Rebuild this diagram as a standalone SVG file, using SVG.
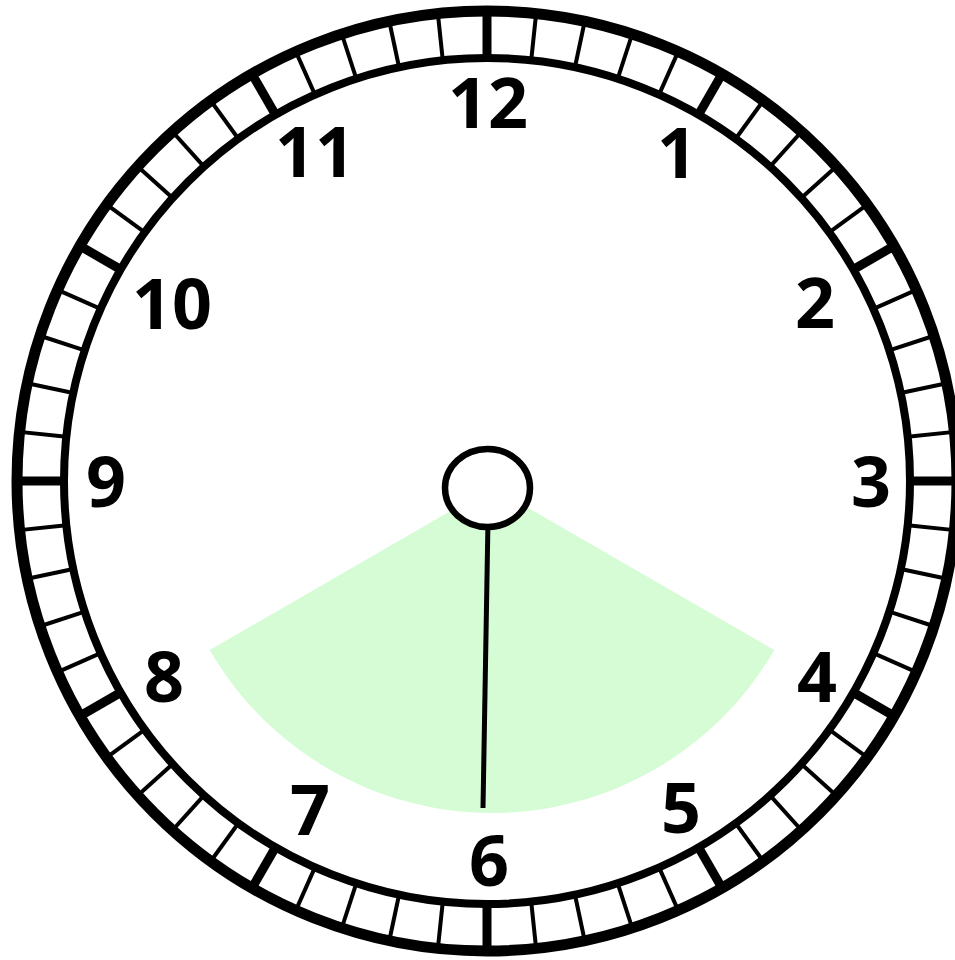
<svg xmlns="http://www.w3.org/2000/svg" xmlns:xlink="http://www.w3.org/1999/xlink" width="955" height="960" viewBox="0 0 955 960">
<style>
.num{font-family:"Noto Sans","Open Sans","DejaVu Sans",sans-serif;font-weight:700;font-size:70px;fill:#000;text-anchor:middle}
.mt{stroke:#000;stroke-width:4}
.ht{stroke:#000;stroke-width:9}
</style>
<defs>
<line id="m" class="mt" x1="487" y1="11" x2="487" y2="58"/>
<line id="h" class="ht" x1="487" y1="11" x2="487" y2="58"/>
</defs>
<rect width="955" height="960" fill="#fff"/>
<g id="sector">
<path d="M492,487 L209.7,650 A326,326 0 0 0 774.3,650 Z" fill="#d6fcd6"/>
</g>
<g id="ticks">
<use xlink:href="#h" transform="rotate(0 487 481)"/>
<use xlink:href="#m" transform="rotate(6 487 481)"/>
<use xlink:href="#m" transform="rotate(12 487 481)"/>
<use xlink:href="#m" transform="rotate(18 487 481)"/>
<use xlink:href="#m" transform="rotate(24 487 481)"/>
<use xlink:href="#h" transform="rotate(30 487 481)"/>
<use xlink:href="#m" transform="rotate(36 487 481)"/>
<use xlink:href="#m" transform="rotate(42 487 481)"/>
<use xlink:href="#m" transform="rotate(48 487 481)"/>
<use xlink:href="#m" transform="rotate(54 487 481)"/>
<use xlink:href="#h" transform="rotate(60 487 481)"/>
<use xlink:href="#m" transform="rotate(66 487 481)"/>
<use xlink:href="#m" transform="rotate(72 487 481)"/>
<use xlink:href="#m" transform="rotate(78 487 481)"/>
<use xlink:href="#m" transform="rotate(84 487 481)"/>
<use xlink:href="#h" transform="rotate(90 487 481)"/>
<use xlink:href="#m" transform="rotate(96 487 481)"/>
<use xlink:href="#m" transform="rotate(102 487 481)"/>
<use xlink:href="#m" transform="rotate(108 487 481)"/>
<use xlink:href="#m" transform="rotate(114 487 481)"/>
<use xlink:href="#h" transform="rotate(120 487 481)"/>
<use xlink:href="#m" transform="rotate(126 487 481)"/>
<use xlink:href="#m" transform="rotate(132 487 481)"/>
<use xlink:href="#m" transform="rotate(138 487 481)"/>
<use xlink:href="#m" transform="rotate(144 487 481)"/>
<use xlink:href="#h" transform="rotate(150 487 481)"/>
<use xlink:href="#m" transform="rotate(156 487 481)"/>
<use xlink:href="#m" transform="rotate(162 487 481)"/>
<use xlink:href="#m" transform="rotate(168 487 481)"/>
<use xlink:href="#m" transform="rotate(174 487 481)"/>
<use xlink:href="#h" transform="rotate(180 487 481)"/>
<use xlink:href="#m" transform="rotate(186 487 481)"/>
<use xlink:href="#m" transform="rotate(192 487 481)"/>
<use xlink:href="#m" transform="rotate(198 487 481)"/>
<use xlink:href="#m" transform="rotate(204 487 481)"/>
<use xlink:href="#h" transform="rotate(210 487 481)"/>
<use xlink:href="#m" transform="rotate(216 487 481)"/>
<use xlink:href="#m" transform="rotate(222 487 481)"/>
<use xlink:href="#m" transform="rotate(228 487 481)"/>
<use xlink:href="#m" transform="rotate(234 487 481)"/>
<use xlink:href="#h" transform="rotate(240 487 481)"/>
<use xlink:href="#m" transform="rotate(246 487 481)"/>
<use xlink:href="#m" transform="rotate(252 487 481)"/>
<use xlink:href="#m" transform="rotate(258 487 481)"/>
<use xlink:href="#m" transform="rotate(264 487 481)"/>
<use xlink:href="#h" transform="rotate(270 487 481)"/>
<use xlink:href="#m" transform="rotate(276 487 481)"/>
<use xlink:href="#m" transform="rotate(282 487 481)"/>
<use xlink:href="#m" transform="rotate(288 487 481)"/>
<use xlink:href="#m" transform="rotate(294 487 481)"/>
<use xlink:href="#h" transform="rotate(300 487 481)"/>
<use xlink:href="#m" transform="rotate(306 487 481)"/>
<use xlink:href="#m" transform="rotate(312 487 481)"/>
<use xlink:href="#m" transform="rotate(318 487 481)"/>
<use xlink:href="#m" transform="rotate(324 487 481)"/>
<use xlink:href="#h" transform="rotate(330 487 481)"/>
<use xlink:href="#m" transform="rotate(336 487 481)"/>
<use xlink:href="#m" transform="rotate(342 487 481)"/>
<use xlink:href="#m" transform="rotate(348 487 481)"/>
<use xlink:href="#m" transform="rotate(354 487 481)"/>
</g>
<g id="rim">
<circle cx="487" cy="481" r="470" fill="none" stroke="#000" stroke-width="11"/>
<circle cx="487" cy="481" r="423" fill="none" stroke="#000" stroke-width="8"/>
</g>
<g id="numbers">
<text class="num" x="488" y="128">12</text>
<text class="num" x="677" y="178">1</text>
<text class="num" x="815" y="328">2</text>
<text class="num" x="871" y="507">3</text>
<text class="num" x="817" y="702">4</text>
<text class="num" x="681" y="833">5</text>
<text class="num" x="489" y="886">6</text>
<text class="num" x="310" y="835">7</text>
<text class="num" x="164" y="702">8</text>
<text class="num" x="106" y="507">9</text>
<text class="num" x="172" y="329">10</text>
<text class="num" x="315" y="177">11</text>
</g>
<g id="hand">
<line x1="488" y1="520" x2="483" y2="808" stroke="#000" stroke-width="5"/>
</g>
<g id="knob">
<ellipse cx="487.5" cy="488" rx="42.5" ry="39" fill="#fff" stroke="#000" stroke-width="6.5"/>
</g>
</svg>
